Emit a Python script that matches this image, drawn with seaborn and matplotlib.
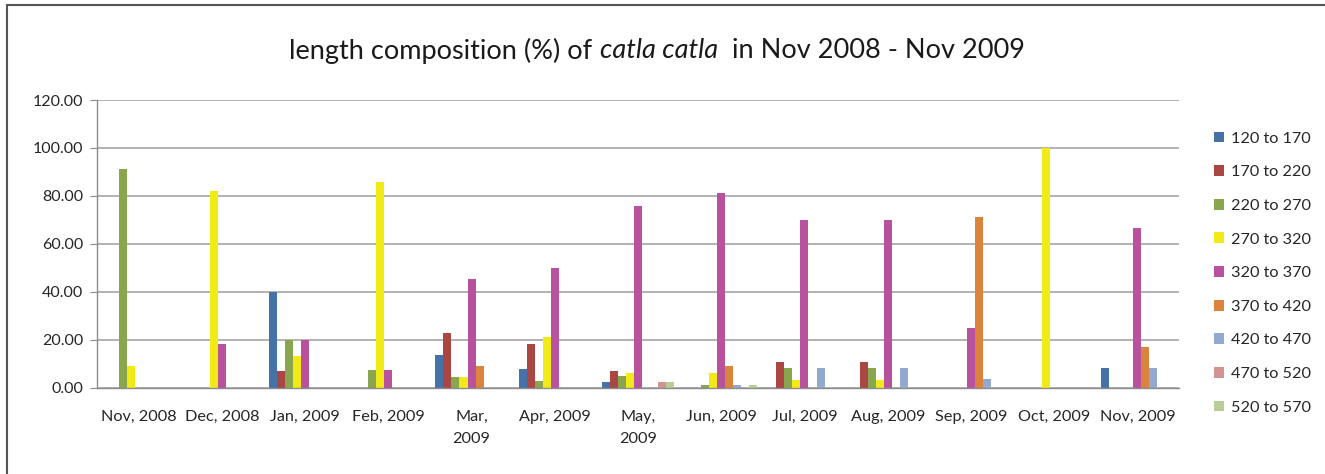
import numpy as np
import pandas as pd
import matplotlib
matplotlib.use("Agg")
import matplotlib.pyplot as plt
import seaborn as sns
from matplotlib.patches import Patch
from matplotlib.lines import Line2D

# ------------------------------------------------------------------
# Data
# ------------------------------------------------------------------
months = ["Nov, 2008", "Dec, 2008", "Jan, 2009", "Feb, 2009", "Mar,\n2009",
          "Apr, 2009", "May,\n2009", "Jun, 2009", "Jul, 2009", "Aug, 2009",
          "Sep, 2009", "Oct, 2009", "Nov, 2009"]
size_classes = ["120 to 170", "170 to 220", "220 to 270", "270 to 320",
                "320 to 370", "370 to 420", "420 to 470", "470 to 520",
                "520 to 570"]

s120_170 = [0, 0, 40.0, 0, 13.6, 7.7, 2.2, 0, 0, 0, 0, 0, 8.3]
s170_220 = [0, 0, 6.7, 0, 22.7, 18.0, 6.8, 0, 10.6, 10.6, 0, 0, 0]
s220_270 = [91.2, 0, 20.0, 7.1, 4.5, 2.6, 4.7, 1.0, 8.1, 8.1, 0, 0, 0]
s270_320 = [9.0, 82.0, 13.3, 85.7, 4.5, 21.0, 6.0, 6.0, 3.0, 3.0, 0, 100.0, 0]
s320_370 = [0, 18.1, 20.0, 7.1, 45.3, 50.0, 75.7, 81.2, 70.0, 70.0, 24.8, 0, 66.7]
s370_420 = [0, 0, 0, 0, 9.1, 0, 0, 9.0, 0, 0, 71.1, 0, 16.7]
s420_470 = [0, 0, 0, 0, 0, 0, 0, 1.0, 8.1, 8.1, 3.5, 0, 8.3]
s470_520 = [0, 0, 0, 0, 0, 0, 2.2, 0, 0, 0, 0, 0, 0]
s520_570 = [0, 0, 0, 0, 0, 0, 2.2, 1.0, 0, 0, 0, 0, 0]

series = [s120_170, s170_220, s220_270, s270_320, s320_370,
          s370_420, s420_470, s470_520, s520_570]

colors = ["#4572A7", "#AA4643", "#89A54E", "#F2EA16", "#B8519E",
          "#DB843D", "#93A9CF", "#D39392", "#B9CD96"]

rows = []
for cls, vals in zip(size_classes, series):
    for m, v in zip(months, vals):
        rows.append({"month": m, "size": cls, "pct": v})
df = pd.DataFrame(rows)

# ------------------------------------------------------------------
# Plot
# ------------------------------------------------------------------
sns.set_style("white")
plt.rcParams["font.family"] = ["Lato", "DejaVu Sans"]

fig = plt.figure(figsize=(13.25, 4.74), dpi=100)
ax = fig.add_axes([97 / 1325, 1 - 387.5 / 474, (1179 - 97) / 1325, 287.5 / 474])

sns.barplot(data=df, x="month", y="pct", hue="size", order=months,
            hue_order=size_classes, palette=colors, width=0.87,
            saturation=1, linewidth=0, ax=ax, legend=False)

ax.set_ylim(0, 120)
ax.set_xlim(-0.5, len(months) - 0.5)
ax.set_yticks(np.arange(0, 121, 20))
ax.set_yticklabels([f"{v:.2f}" for v in np.arange(0, 121, 20)], fontsize=11.5)
ax.yaxis.grid(True, color="#A6A6A6", linewidth=1.2)
ax.set_axisbelow(True)
ax.set_xlabel("")
ax.set_ylabel("")

# category labels without ticks, tick marks between categories
ax.set_xticks(range(len(months)))
ax.set_xticklabels(months, fontsize=11.7, linespacing=1.75)
ax.set_xticks(np.arange(-0.5, len(months), 1), minor=True)
ax.tick_params(axis="x", which="major", length=0, pad=16)
ax.tick_params(axis="x", which="minor", length=5, color="#8C8C8C", direction="out")
ax.tick_params(axis="y", length=5, color="#8C8C8C", direction="out", left=True, pad=5)

for side in ["top", "right"]:
    ax.spines[side].set_visible(False)
for side in ["left", "bottom"]:
    ax.spines[side].set_color("#8C8C8C")
    ax.spines[side].set_linewidth(1.0)

# legend
handles = [Patch(facecolor=c, edgecolor="none") for c in colors]
fig.legend(handles, size_classes, loc="upper left",
           bbox_to_anchor=(1207 / 1325, 1 - 125 / 474), frameon=False,
           fontsize=11.7, handlelength=0.65, handleheight=0.65,
           handletextpad=0.45, labelspacing=1.2, borderaxespad=0)

# title with italic species name
fig.canvas.draw()
renderer = fig.canvas.get_renderer()
parts = [("length composition (%) of ", "normal"),
         ("catla catla", "italic"),
         ("  in Nov 2008 - Nov 2009", "normal")]
texts = []
x = 0
for s, st in parts:
    t = fig.text(x, 1 - 51 / 474, s, fontsize=19.5, style=st, va="center",
                 ha="left", color="#1a1a1a")
    texts.append(t)
    bb = t.get_window_extent(renderer)
    x += bb.width / fig.bbox.width
total = x
start = 657 / 1325 - total / 2
x = start
for t in texts:
    t.set_x(x)
    bb = t.get_window_extent(renderer)
    x += bb.width / fig.bbox.width

# chart-area border (left and top visible in reference)
fig.add_artist(Line2D([7 / 1325, 7 / 1325], [0, 1 - 5 / 474],
                      transform=fig.transFigure, color="#555555", linewidth=1.5))
fig.add_artist(Line2D([7 / 1325, 1], [1 - 5 / 474, 1 - 5 / 474],
                      transform=fig.transFigure, color="#555555", linewidth=1.5))

fig.savefig("out.png", dpi=100, facecolor="white")
